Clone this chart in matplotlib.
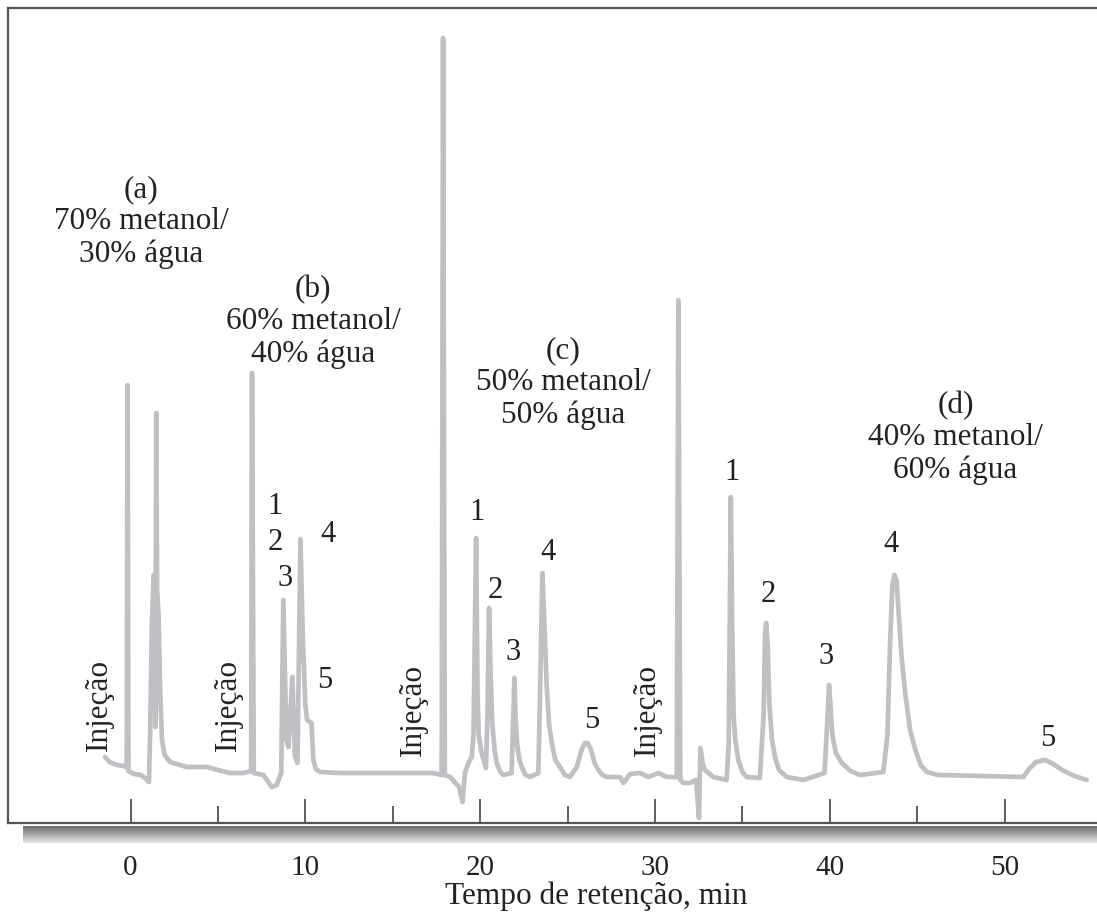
import numpy as np
import matplotlib
matplotlib.use("Agg")
import matplotlib.pyplot as plt

# chromatogram trace (time in min, detector signal in arbitrary units)
time_min = [-1.46, -1.2, -0.8, -0.4, -0.22, -0.17, -0.12, 0.2, 0.6, 0.9, 1.05, 1.12, 1.22, 1.32, 1.38,
            1.42, 1.47, 1.52, 1.6, 1.7, 1.8, 1.95, 2.26, 3.21, 4.36, 5.0, 5.69, 6.45, 6.9, 6.95, 7.05,
            7.6, 8.08, 8.36, 8.62, 8.74, 8.92, 9.03, 9.26, 9.4, 9.55, 9.72, 9.85, 10.0, 10.1, 10.35,
            10.46, 10.6, 10.84, 11.98, 14.8, 17.3, 17.8, 17.88, 17.98, 18.28, 18.8, 19.0, 19.13, 19.33,
            19.52, 19.62, 19.77, 19.85, 19.92, 20.05, 20.33, 20.42, 20.51, 20.6, 20.7, 20.85, 20.95,
            21.15, 21.33, 21.8, 21.96, 22.03, 22.12, 22.25, 22.38, 22.6, 22.86, 23.33, 23.45, 23.56,
            23.68, 23.81, 23.95, 24.1, 24.3, 24.57, 24.85, 25.14, 25.53, 25.8, 26.0, 26.15, 26.35,
            26.55, 26.76, 27.0, 27.24, 28.0, 28.2, 28.58, 29.15, 29.62, 30.2, 30.68, 31.25, 31.34,
            31.45, 31.63, 32.0, 32.35, 32.52, 32.6, 32.75, 32.86, 33.34, 34.1, 34.22, 34.34, 34.42,
            34.5, 34.6, 34.77, 35.0, 35.25, 36.0, 36.22, 36.3, 36.36, 36.45, 36.55, 36.7, 36.87, 37.1,
            37.54, 38.5, 39.7, 39.88, 39.96, 40.04, 40.15, 40.35, 40.69, 41.2, 41.73, 43.07, 43.3,
            43.45, 43.58, 43.7, 43.82, 43.95, 44.1, 44.33, 44.6, 44.9, 45.2, 45.55, 46.2, 51.08, 51.4,
            51.8, 52.3, 52.7, 53.3, 54.0, 54.7]
signal = [18, 13, 10, 9, 8, 390, 4, 1, 0, -4, -7, 40, 150, 200, 200,
          48, 362, 185, 160, 80, 35, 20, 13, 8, 8, 5, 2, 2, 4, 402, 2,
          0, -12, -10, 2, 175, 35, 28, 98, 20, 12, 236, 142, 70, 55, 52,
          15, 6, 3, 2, 2, 2, 0, 737, 0, -2, -12, -27, 2, 12,
          18, 40, 237, 80, 40, 25, 7, 60, 167, 100, 50, 22, 12,
          3, 0, 2, 97, 55, 30, 15, 8, 0, -2, 2, 100, 202,
          150, 88, 50, 32, 15, 8, 0, -2, 8, 25, 32, 32, 25,
          12, 5, 0, -2, -2, -8, 1, 2, -2, 2, -2, -2, 475,
          -5, -8, -8, -5, -43, 27, 10, 5, -2, -5, 30, 278, 150,
          60, 35, 15, 3, -2, -3, 60, 140, 152, 130, 70, 35, 18, 5,
          -2, -5, 2, 60, 90, 70, 40, 22, 12, 4, 0, 3, 40,
          130, 190, 200, 195, 160, 120, 80, 45, 25, 10, 3, 0, -2, 6,
          13, 15, 12, 5, -1, -5]

# mobile phase labels
phase_text = ["(a)\n70% metanol/\n30% água", "(b)\n60% metanol/\n40% água",
              "(c)\n50% metanol/\n50% água", "(d)\n40% metanol/\n60% água"]
phase_t = [0.6, 10.45, 24.75, 47.2]
phase_s = [553, 453, 392, 337]

# injection marks
inj_t = [-1.8, 5.58, 16.16, 29.55]
inj_s = [70, 70, 65, 65]

# peak numbers
peak_num = ["1", "2", "3", "4", "5"] * 3
peak_t = [8.28, 8.28, 8.84, 11.3, 11.13,
          19.8, 20.85, 21.9, 23.9, 26.38,
          34.39, 36.49, 39.77, 43.49, 52.5]
peak_s = [268, 232, 197, 240, 95,
          262, 185, 123, 223, 55,
          302, 180, 118, 230, 37]

major_ticks = [0, 10, 20, 30, 40, 50]
minor_ticks = [5, 15, 25, 35, 45]

W, H = 1097, 919
fig = plt.figure(figsize=(W / 100, H / 100), dpi=100)
serif = "Liberation Serif"

# shadow under the time axis
sh = fig.add_axes([23 / W, (H - 843) / H, (W - 23) / W, 17 / H])
grad = np.linspace(0.4, 0.9, 40).reshape(-1, 1)
sh.imshow(grad, aspect="auto", cmap="gray", vmin=0, vmax=1)
sh.axis("off")

ax = fig.add_axes([8 / W, (H - 823) / H, (W - 8) / W, 815 / H])
ax.patch.set_alpha(0)
ax.plot(time_min, signal, color="#c0c0c4", lw=3.4, solid_joinstyle="round", solid_capstyle="round")
ax.set_xlim(-7.01, 55.29)
ax.set_ylim(-48, 767)

for sp in ["top", "left", "bottom"]:
    ax.spines[sp].set_color("#555555")
    ax.spines[sp].set_linewidth(1.6)
ax.spines["right"].set_visible(False)

ax.set_xticks(major_ticks)
ax.set_xticks(minor_ticks, minor=True)
ax.set_yticks([])
ax.tick_params(axis="x", which="major", direction="in", length=17, width=1.1, color="#333333",
               pad=23, labelsize=21, labelcolor="#222222")
ax.tick_params(axis="x", which="minor", direction="in", length=12, width=1.1, color="#333333")
for lab in ax.get_xticklabels():
    lab.set_family(serif)

ax.set_xlabel("Tempo de retenção, min", family=serif, fontsize=22.5, color="#222222")
ax.xaxis.set_label_coords((596 - 8) / (W - 8), -0.072)

for txt, t, s in zip(phase_text, phase_t, phase_s):
    ax.text(t, s, txt, ha="center", va="center", family=serif, fontsize=22.5,
            color="#222222", linespacing=1.15)

for t, s in zip(inj_t, inj_s):
    ax.text(t, s, "Injeção", rotation=90, ha="center", va="center", family=serif,
            fontsize=22.5, color="#222222")

for n, t, s in zip(peak_num, peak_t, peak_s):
    ax.text(t, s, n, ha="center", va="center", family=serif, fontsize=22, color="#222222")

fig.savefig("out.png", dpi=100)
